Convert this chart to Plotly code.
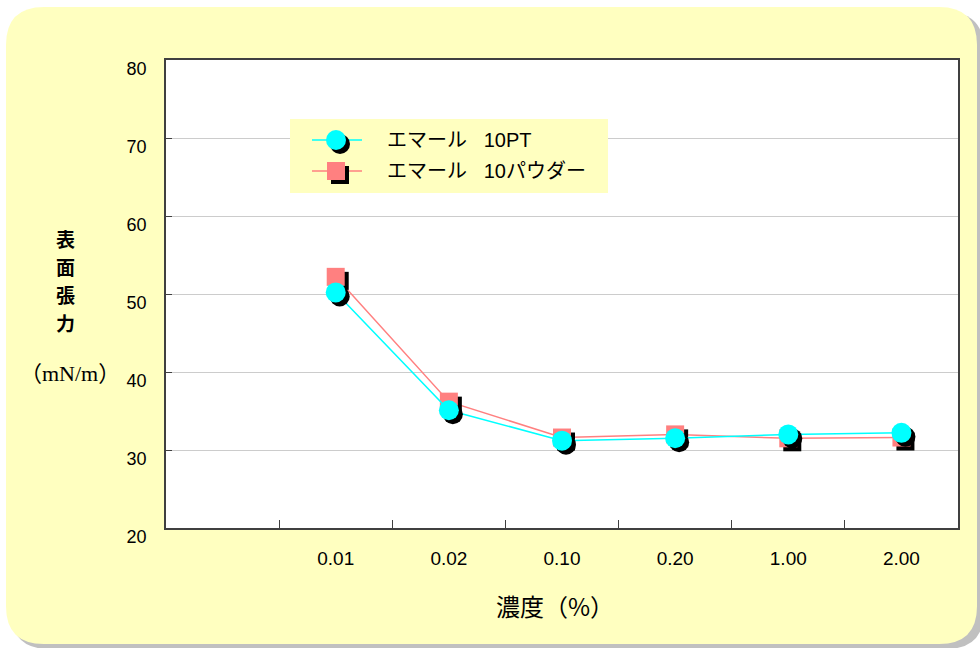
import plotly.graph_objects as go

W, H = 980, 648

concentrations = ["0.01", "0.02", "0.10", "0.20", "1.00", "2.00"]
pt_values = [50.2, 35.1, 31.2, 31.5, 32.0, 32.2]
powder_values = [52.2, 36.2, 31.6, 32.0, 31.5, 31.6]
series_names = ["エマール\u00a0\u00a0\u00a010PT", "エマール\u00a0\u00a0\u00a010パウダー"]
y_ticks = [20, 30, 40, 50, 60, 70, 80]
y_title_chars = ["表", "面", "張", "力"]

CYAN = "#00FFFF"
PINK = "#FF8080"
YELLOW = "#FFFFC0"
FRAME = "#404040"

PL, PR, PT, PB = 166, 958, 60, 528
x_range = [-1.5, len(concentrations) - 0.5]
y_range = [y_ticks[0], y_ticks[-1]]
xpos = list(range(len(concentrations)))

SH = 4
dx = SH * (x_range[1] - x_range[0]) / (PR - PL)
dy = SH * (y_range[1] - y_range[0]) / (PB - PT)

def px(x):
    return x / W

def py(y):
    return 1 - y / H

def rounded_rect(x0, y0, x1, y1, r):
    rx, ry = r / W, r / H
    X0, X1 = px(x0), px(x1)
    Y0, Y1 = py(y0), py(y1)
    return (f"M {X0+rx},{Y0} L {X1-rx},{Y0} Q {X1},{Y0} {X1},{Y0-ry} "
            f"L {X1},{Y1+ry} Q {X1},{Y1} {X1-rx},{Y1} "
            f"L {X0+rx},{Y1} Q {X0},{Y1} {X0},{Y1+ry} "
            f"L {X0},{Y0-ry} Q {X0},{Y0} {X0+rx},{Y0} Z")

fig = go.Figure()

series = [
    (series_names[1], powder_values, PINK, "square", 18),
    (series_names[0], pt_values, CYAN, "circle", 20),
]

for name, vals, color, sym, size in series:
    fig.add_trace(go.Scatter(x=xpos, y=vals, mode="lines",
                             line=dict(color=color, width=1.5),
                             showlegend=False, hoverinfo="skip"))
    fig.add_trace(go.Scatter(x=[v + dx for v in xpos], y=[v - dy for v in vals],
                             mode="markers",
                             marker=dict(symbol=sym, size=size, color="black",
                                         line=dict(width=0)),
                             showlegend=False, hoverinfo="skip"))
    fig.add_trace(go.Scatter(x=xpos, y=vals, mode="markers", name=name,
                             marker=dict(symbol=sym, size=size, color=color,
                                         line=dict(width=0)),
                             showlegend=False))

LX0, LX1, LY0, LY1 = 290, 608, 119, 193
rows = [(series_names[0], CYAN, "circle", 20, 140),
        (series_names[1], PINK, "square", 18, 171)]
for name, color, sym, size, ry in rows:
    fig.add_trace(go.Scatter(x=[312, 362], y=[ry, ry], mode="lines",
                             line=dict(color=color, width=1.5),
                             xaxis="x2", yaxis="y2", showlegend=False,
                             hoverinfo="skip", cliponaxis=False))
    fig.add_trace(go.Scatter(x=[336 + SH], y=[ry + SH], mode="markers",
                             marker=dict(symbol=sym, size=size, color="black",
                                         line=dict(width=0)),
                             xaxis="x2", yaxis="y2", showlegend=False,
                             hoverinfo="skip", cliponaxis=False))
    fig.add_trace(go.Scatter(x=[336], y=[ry], mode="markers",
                             marker=dict(symbol=sym, size=size, color=color,
                                         line=dict(width=0)),
                             xaxis="x2", yaxis="y2", showlegend=False,
                             hoverinfo="skip", cliponaxis=False))

shapes = [
    dict(type="path", xref="paper", yref="paper",
         path=rounded_rect(11, 12, 984, 649, 38),
         fillcolor="#C0C0C0", line=dict(width=0), layer="below"),
    dict(type="path", xref="paper", yref="paper",
         path=rounded_rect(6, 7, 977, 644, 38),
         fillcolor=YELLOW, line=dict(width=0), layer="below"),
    dict(type="rect", xref="x", yref="y", x0=x_range[0], x1=x_range[1],
         y0=y_range[0], y1=y_range[1],
         fillcolor="white", line=dict(width=0), layer="below"),
    dict(type="rect", xref="x2", yref="y2", x0=LX0, x1=LX1, y0=LY0, y1=LY1,
         fillcolor=YELLOW, line=dict(width=0), layer="below"),
]

annotations = []
for name, color, sym, size, ry in rows:
    annotations.append(dict(xref="x2", yref="y2", x=385, y=ry, text=name,
                            showarrow=False, xanchor="left", yanchor="middle",
                            font=dict(family="Liberation Sans, Noto Sans CJK JP",
                                      size=20, color="black")))
for i, ch in enumerate(y_title_chars):
    annotations.append(dict(xref="paper", yref="paper", x=px(65), y=py(238 + 28 * i),
                            text=f"<b>{ch}</b>", showarrow=False,
                            xanchor="center", yanchor="middle",
                            font=dict(family="Noto Sans CJK JP", size=19, color="black")))
annotations += [
    dict(xref="paper", yref="paper", x=px(70), y=py(373),
         text="（mN/m）", showarrow=False, xanchor="center", yanchor="middle",
         font=dict(family="Liberation Serif, Noto Sans CJK JP", size=22, color="black")),
    dict(xref="paper", yref="paper", x=px(555), y=py(605),
         text="濃度（%）", showarrow=False, xanchor="center", yanchor="middle",
         font=dict(family="Noto Sans CJK JP", size=24, color="black")),
]

fig.update_layout(
    width=W, height=H, autosize=False,
    margin=dict(l=0, r=0, t=0, b=0, pad=0),
    paper_bgcolor="white", plot_bgcolor="white",
    shapes=shapes, annotations=annotations,
    showlegend=False,
    xaxis=dict(domain=[px(PL), px(PR)], range=x_range, automargin=False,
               tickmode="array", tickvals=xpos, ticktext=concentrations,
               ticks="", showgrid=False, zeroline=False,
               showline=True, linecolor=FRAME, linewidth=1.5, mirror=True,
               ticklabelstandoff=12,
               tickfont=dict(family="Liberation Sans Narrow, Liberation Sans", size=19, color="black"),
               minor=dict(tickmode="array", tickvals=[v - 0.5 for v in xpos],
                          ticks="inside", ticklen=8, tickcolor=FRAME, tickwidth=1,
                          showgrid=False)),
    yaxis=dict(domain=[py(PB), py(PT)], range=y_range, automargin=False,
               tickmode="array", tickvals=y_ticks,
               ticks="inside", ticklen=6, tickcolor=FRAME, tickwidth=1,
               showgrid=True, gridcolor="#CCCCCC", gridwidth=1, zeroline=False,
               showline=True, linecolor=FRAME, linewidth=1.5, mirror=True,
               ticklabelstandoff=14, ticklabelshift=9,
               tickfont=dict(family="Liberation Sans", size=18, color="black")),
    xaxis2=dict(domain=[px(LX0), px(LX1)], range=[LX0, LX1], anchor="y2",
                visible=False, fixedrange=True, automargin=False),
    yaxis2=dict(domain=[py(LY1), py(LY0)], range=[LY1, LY0], anchor="x2",
                visible=False, fixedrange=True, automargin=False),
)

pin_to_corner = ("document.body.style.margin='0';"
                 "var d=document.getElementById('{plot_id}');"
                 "d.style.position='fixed';d.style.left='0px';d.style.top='0px';")

fig.write_html("out.html", config={"displayModeBar": False}, post_script=pin_to_corner)
